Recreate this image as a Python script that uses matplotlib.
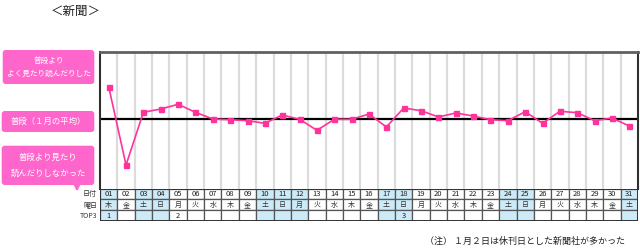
import matplotlib
matplotlib.use("Agg")
import matplotlib.pyplot as plt
from matplotlib.patches import FancyBboxPatch, Rectangle, Polygon

plt.rcParams['font.family'] = ['Noto Sans CJK JP', 'DejaVu Sans']

days = ["01","02","03","04","05","06","07","08","09","10","11","12","13","14","15","16",
        "17","18","19","20","21","22","23","24","25","26","27","28","29","30","31"]
weekdays = ["木","金","土","日","月","火","水","木","金","土","日","月","火","水","木","金",
            "土","日","月","火","水","木","金","土","日","月","火","水","木","金","土"]
top3 = {"01": "1", "05": "2", "18": "3"}
holidays = ["01","03","04","10","11","12","17","18","24","25","31"]
values = [32.3, -46.0, 6.7, 10.0, 14.7, 6.7, 0.0, -0.7, -1.7, -4.3, 4.0, -0.3, -11.3,
          -0.3, -0.3, 5.0, -8.0, 11.0, 8.3, 2.0, 6.0, 3.0, -0.7, -1.7, 7.3, -4.3,
          7.7, 6.3, -1.7, 1.0, -7.0]

W, H = 640, 250
fig = plt.figure(figsize=(6.4, 2.5), dpi=100)
fig.patch.set_facecolor("white")

def fx(px):
    return px / W

def fy(py):
    return 1 - py / H

# ---- main plot axes ----
x0, x1 = 100, 638
ytop, ybot = 52.3, 188.5
ax = fig.add_axes([fx(x0), fy(ybot), fx(x1 - x0), (ybot - ytop) / H])
n = len(days)
ax.set_xlim(0, n)
ax.set_ylim(-69.5, 66.7)
for i in range(1, n):
    ax.axvline(i, color="#DCDCDC", lw=1.6, zorder=1)
ax.axhline(0, color="black", lw=1.6, zorder=2)
xs = [i + 0.5 for i in range(n)]
ax.plot(xs, values, color="#FF3399", lw=1.2, marker="s", ms=3.6,
        mfc="#FF3399", mec="#FF3399", zorder=3)
ax.set_xticks([]); ax.set_yticks([])
for s in ["bottom"]:
    ax.spines[s].set_visible(False)
ax.spines["top"].set_color("#606060"); ax.spines["top"].set_linewidth(2)
ax.spines["left"].set_color("#303030"); ax.spines["left"].set_linewidth(1.5)
ax.spines["right"].set_color("#303030"); ax.spines["right"].set_linewidth(1.5)

# ---- table axes ----
tt, tb = 188.5, 221
tax = fig.add_axes([fx(x0), fy(tb), fx(x1 - x0), (tb - tt) / H])
tax.set_xlim(0, n)
tax.set_ylim(3, 0)
tax.axis("off")
for i, d in enumerate(days):
    for r in range(3):
        fc = "#CDEAF8" if d in holidays else "white"
        tax.add_patch(Rectangle((i, r), 1, 1, facecolor=fc, edgecolor="#555555", lw=0.9))
    tax.text(i + 0.5, 0.5, d, ha="center", va="center", fontsize=5.5, color="#222222")
    tax.text(i + 0.5, 1.5, weekdays[i], ha="center", va="center", fontsize=5, color="#333333")
    if d in top3:
        tax.text(i + 0.5, 2.5, top3[d], ha="center", va="center", fontsize=5.5, color="#222222")
tax.add_patch(Rectangle((0, 0), n, 3, facecolor="none", edgecolor="#333333", lw=1.4))

# ---- decoration overlay in pixel coords ----
ov = fig.add_axes([0, 0, 1, 1], zorder=-1)
ov.set_xlim(0, W); ov.set_ylim(H, 0); ov.axis("off")

pink = "#FF66CC"
def box(xa, ya, xb, yb):
    ov.add_patch(FancyBboxPatch((xa + 3, ya + 3), xb - xa - 6, yb - ya - 6,
                                boxstyle="round,pad=3", fc=pink, ec=pink, lw=0))

box(2.7, 50, 94.3, 84)
ov.text(48.5, 61, "普段より", ha="center", va="center", fontsize=5.5, color="white")
ov.text(48.5, 73.5, "よく見たり読んだりした", ha="center", va="center", fontsize=5.5, color="white")
box(1.7, 111, 94.3, 132)
ov.text(48, 121.5, "普段（１月の平均）", ha="center", va="center", fontsize=6, color="white")
box(1.7, 145.7, 94.3, 185)
ov.add_patch(Polygon([[74, 184], [80, 184], [77, 190]], closed=True, fc=pink, ec=pink))
ov.text(48, 157.5, "普段より見たり", ha="center", va="center", fontsize=6, color="white")
ov.text(48, 173, "読んだりしなかった", ha="center", va="center", fontsize=6, color="white")

ov.text(76, 11, "＜新聞＞", ha="center", va="center", fontsize=9, color="#222222")

for lab, yy in [("日付", 194), ("曜日", 205), ("TOP3", 215.5)]:
    ov.text(97, yy, lab, ha="right", va="center", fontsize=5, color="#333333")

ov.text(625, 241.5, "（注） １月２日は休刊日とした新聞社が多かった", ha="right", va="center",
        fontsize=6.5, color="#222222")

fig.savefig("out.png", dpi=100, facecolor="white")
